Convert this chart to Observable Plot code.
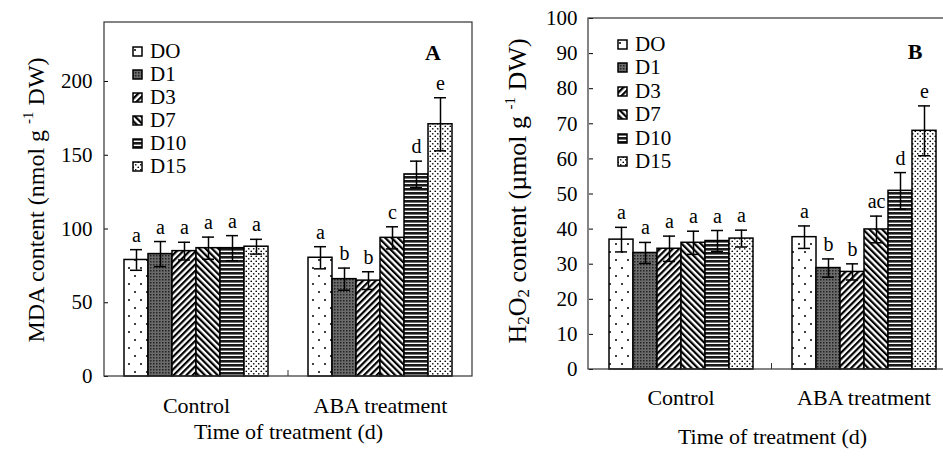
<!DOCTYPE html>
<html><head><meta charset="utf-8">
<script src="https://cdn.jsdelivr.net/npm/d3@7"></script>
<script src="https://cdn.jsdelivr.net/npm/@observablehq/plot@0.6"></script>
<style>
body{margin:0;background:#fff;}
#root{position:relative;width:943px;height:460px;overflow:hidden;background:#fff;font-family:"Liberation Serif","Times New Roman",serif;color:#000;}
.ytitle{position:absolute;white-space:nowrap;font-size:26px;transform:translate(-50%,-50%) rotate(-90deg);}
.ytitle sup{font-size:15px;vertical-align:11px;}
.ytitle sub{font-size:17px;vertical-align:-3px;}
.legend{position:absolute;font-size:21px;}
.legend .row{display:flex;align-items:center;}
.legend svg{margin-right:7px;}
.plabel{position:absolute;font-size:22px;font-weight:bold;transform:translate(-50%,-50%);}
</style></head>
<body>
<svg width="0" height="0" style="position:absolute"><defs>
<pattern id="pDO" patternUnits="userSpaceOnUse" width="12" height="16"><rect width="12" height="16" fill="#fff"/><circle cx="3" cy="4" r="1" fill="#000"/><circle cx="9" cy="12" r="1" fill="#000"/></pattern>
<pattern id="pD1" patternUnits="userSpaceOnUse" width="3" height="3"><rect width="3" height="3" fill="#6b6b6b"/><rect width="1.5" height="1.5" fill="#222"/></pattern>
<pattern id="pD3" patternUnits="userSpaceOnUse" width="4.5" height="4.5" patternTransform="rotate(45)"><rect width="4.5" height="4.5" fill="#fff"/><rect width="2.2" height="4.5" fill="#000"/></pattern>
<pattern id="pD7" patternUnits="userSpaceOnUse" width="4.5" height="4.5" patternTransform="rotate(-45)"><rect width="4.5" height="4.5" fill="#fff"/><rect width="2.2" height="4.5" fill="#000"/></pattern>
<pattern id="pD10" patternUnits="userSpaceOnUse" width="4" height="4"><rect width="4" height="4" fill="#fff"/><rect width="4" height="2.6" fill="#1a1a1a"/></pattern>
<pattern id="pD15" patternUnits="userSpaceOnUse" width="5" height="5"><rect width="5" height="5" fill="#fff"/><circle cx="1.25" cy="1.25" r="0.85" fill="#000"/><circle cx="3.75" cy="3.75" r="0.85" fill="#000"/></pattern>
</defs></svg>
<div id="root"></div>
<script>
const groups = ["Control", "ABA treatment"];
const series = ["DO", "D1", "D3", "D7", "D10", "D15"];

// Panel A: MDA content (nmol g-1 DW)
const mdaControl = [79, 83, 85, 87, 87, 88];
const mdaControlErr = [7, 8.5, 6, 7.5, 8.5, 5];
const mdaControlLetters = ["a", "a", "a", "a", "a", "a"];
const mdaABA = [80.5, 66, 65, 94, 137, 171];
const mdaABAErr = [7.5, 7.5, 6, 7.5, 9, 18];
const mdaABALetters = ["a", "b", "b", "c", "d", "e"];
const mdaTicks = [0, 50, 100, 150, 200];

// Panel B: H2O2 content (umol g-1 DW)
const h2o2Control = [37, 33.2, 34.4, 36.1, 36.6, 37.3];
const h2o2ControlErr = [3.5, 3, 3.6, 3.3, 3, 2.4];
const h2o2ControlLetters = ["a", "a", "a", "a", "a", "a"];
const h2o2ABA = [37.7, 28.9, 27.8, 39.9, 50.9, 68];
const h2o2ABAErr = [3.2, 2.6, 2.3, 3.8, 5.2, 7.1];
const h2o2ABALetters = ["a", "b", "b", "ac", "d", "e"];
const h2o2Ticks = [0, 10, 20, 30, 40, 50, 60, 70, 80, 90, 100];

const FONT = '"Liberation Serif","Times New Roman",serif';

function rows(parts) {
  const out = [];
  parts.forEach(([v, e, l], gi) => series.forEach((s, i) =>
    out.push({group: groups[gi], series: s, value: v[i], err: e[i], letter: l[i]})));
  return out;
}

const root = document.getElementById("root");

function panel(o) {
  const {data, yDomain, yTicks, left, width, height, marginLeft, marginRight, marginTop, marginBottom, tickPadding, labelOffset} = o;
  const p = Plot.plot({
    width, height, marginLeft, marginRight, marginTop, marginBottom,
    style: {fontFamily: FONT, fontSize: "21px", color: "#000", background: "transparent", overflow: "visible"},
    fx: {domain: groups, padding: 0},
    x: {domain: series, paddingInner: 0, paddingOuter: 0.755, axis: null},
    y: {domain: yDomain, axis: null},
    color: {domain: series, range: series.map(s => `url(#p${s})`)},
    marks: [
      Plot.barY(data, {fx: "group", x: "series", y: "value", fill: "series", stroke: "#000", strokeWidth: 1.5}),
      Plot.ruleX(data, {fx: "group", x: "series", y1: d => d.value - d.err, y2: d => d.value + d.err, stroke: "#000", strokeWidth: 1.5}),
      Plot.tickY(data, {fx: "group", x: "series", y: d => d.value + d.err, insetLeft: 6, insetRight: 6, stroke: "#000", strokeWidth: 1.5}),
      Plot.tickY(data, {fx: "group", x: "series", y: d => d.value - d.err, insetLeft: 6, insetRight: 6, stroke: "#000", strokeWidth: 1.5}),
      Plot.text(data, {fx: "group", x: "series", y: d => d.value + d.err, text: "letter", dy: -8, lineAnchor: "bottom", fontSize: 20, fill: "#000"}),
      Plot.axisY(yTicks, {tickSize: 4, insetLeft: 4, tickPadding: 12, fontSize: 21, label: null}),
      Plot.axisFx({anchor: "bottom", tickSize: 0, tickPadding, fontSize: 22, label: "Time of treatment (d)", labelAnchor: "center", labelOffset})
    ]
  });
  const svg = d3.select(p);
  const fw = width - marginLeft - marginRight, fh = height - marginTop - marginBottom;
  svg.append("rect").attr("x", marginLeft).attr("y", marginTop).attr("width", fw).attr("height", fh)
    .attr("fill", "none").attr("stroke", "#333").attr("stroke-width", 1.2);
  svg.append("line").attr("x1", marginLeft + fw / 2).attr("x2", marginLeft + fw / 2)
    .attr("y1", marginTop + fh).attr("y2", marginTop + fh - 6).attr("stroke", "#333").attr("stroke-width", 1);
  p.style.position = "absolute";
  p.style.left = left + "px";
  p.style.top = "0px";
  root.appendChild(p);
}

panel({
  data: rows([[mdaControl, mdaControlErr, mdaControlLetters], [mdaABA, mdaABAErr, mdaABALetters]]),
  yDomain: [0, 240], yTicks: mdaTicks, left: 0, width: 475, height: 460,
  marginLeft: 104, marginRight: 3, marginTop: 22, marginBottom: 84, tickPadding: 21, labelOffset: 62
});
panel({
  data: rows([[h2o2Control, h2o2ControlErr, h2o2ControlLetters], [h2o2ABA, h2o2ABAErr, h2o2ABALetters]]),
  yDomain: [0, 100], yTicks: h2o2Ticks, left: 480, width: 478, height: 460,
  marginLeft: 108, marginRight: 3, marginTop: 18, marginBottom: 91, tickPadding: 20, labelOffset: 74
});

function addHTML(html) { root.insertAdjacentHTML("beforeend", html); }
addHTML(`<div class="ytitle" style="left:35px;top:200px;font-size:24px">MDA content (nmol g <sup>-1</sup> DW)</div>`);
addHTML(`<div class="ytitle" style="left:518px;top:191px">H<sub>2</sub>O<sub>2</sub> content (&micro;mol g <sup>-1</sup> DW)</div>`);
addHTML(`<div class="plabel" style="left:433px;top:53px">A</div>`);
addHTML(`<div class="plabel" style="left:915px;top:52px">B</div>`);

function legend(left, top, rowH) {
  const rowsHtml = series.map(s => `<div class="row" style="height:${rowH}px"><svg width="11" height="11"><rect x="1" y="1" width="9" height="9" fill="url(#p${s})" stroke="#000" stroke-width="1.5"/></svg>${s}</div>`).join("");
  addHTML(`<div class="legend" style="left:${left}px;top:${top}px">${rowsHtml}</div>`);
}
legend(132, 39.5, 23);
legend(617, 32.5, 23.5);
</script>
</body></html>
